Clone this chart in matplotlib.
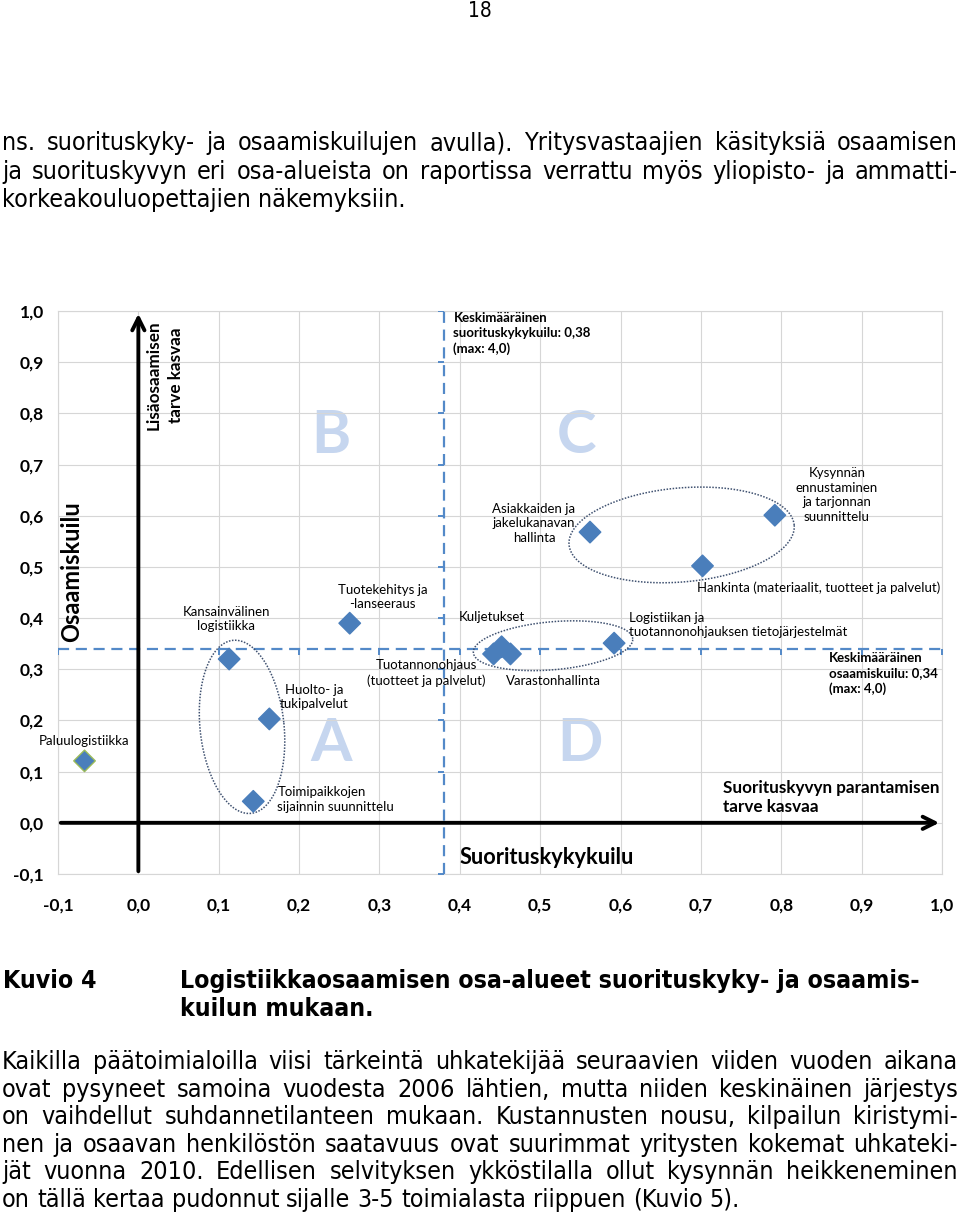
import matplotlib
matplotlib.use('Agg')
import matplotlib.pyplot as plt
import numpy as np
from matplotlib import font_manager as fm

# --- chart data -------------------------------------------------------------
names = ['Paluulogistiikka',
         'Kansainvälinen\nlogistiikka',
         'Huolto- ja\ntukipalvelut',
         'Toimipaikkojen\nsijainnin suunnittelu',
         'Tuotekehitys ja\n-lanseeraus',
         'Tuotannonohjaus\n(tuotteet ja palvelut)',
         'Kuljetukset',
         'Varastonhallinta',
         'Asiakkaiden ja\njakelukanavan\nhallinta',
         'Logistiikan ja\ntuotannonohjauksen tietojärjestelmät',
         'Hankinta (materiaalit, tuotteet ja palvelut)',
         'Kysynnän\nennustaminen\nja tarjonnan\nsuunnittelu']
perf_gap = [-0.067, 0.113, 0.163, 0.143, 0.263, 0.442, 0.452, 0.463, 0.562, 0.592, 0.702, 0.792]
comp_gap = [0.121, 0.320, 0.203, 0.042, 0.390, 0.330, 0.344, 0.330, 0.568, 0.351, 0.502, 0.601]
avg_perf = 0.38
avg_comp = 0.34
ticks = [-0.1, 0.0, 0.1, 0.2, 0.3, 0.4, 0.5, 0.6, 0.7, 0.8, 0.9, 1.0]
tick_labels = ['-0,1', '0,0', '0,1', '0,2', '0,3', '0,4', '0,5', '0,6', '0,7', '0,8', '0,9', '1,0']

# label placement (pixels from the point) and alignment
lab_off = [(0, 20), (-3, 40), (45, 22), (24, 2), (33, 26), (-67, -19), (-10, 30),
           (43, -27), (-56, 9), (15, 18), (116, -22), (62, 20)]
lab_ha = ['center', 'center', 'center', 'left', 'center', 'center', 'center',
          'center', 'center', 'left', 'center', 'center']

# --- page text ----------------------------------------------------------------
top_lines = ['ns. suorituskyky- ja osaamiskuilujen avulla). Yritysvastaajien käsityksiä osaamisen',
             'ja suorituskyvyn eri osa-alueista on raportissa verrattu myös yliopisto- ja ammatti-',
             'korkeakouluopettajien näkemyksiin.']
bottom_lines = ['Kaikilla päätoimialoilla viisi tärkeintä uhkatekijää seuraavien viiden vuoden aikana',
                'ovat pysyneet samoina vuodesta 2006 lähtien, mutta niiden keskinäinen järjestys',
                'on vaihdellut suhdannetilanteen mukaan.  Kustannusten nousu, kilpailun kiristymi-',
                'nen ja osaavan henkilöstön saatavuus ovat suurimmat yritysten kokemat uhkateki-',
                'jät vuonna 2010. Edellisen selvityksen ykköstilalla ollut kysynnän heikkeneminen',
                'on tällä kertaa pudonnut sijalle 3-5 toimialasta riippuen (Kuvio 5).']

W, H = 960, 1215
fig = plt.figure(figsize=(9.6, 12.15), dpi=100)

# body text: condensed DejaVu (Verdana-like, squeezed as in the scan)
body_font = dict(family='DejaVu Sans', fontstretch='condensed', fontsize=18)
page_font = dict(family='DejaVu Sans', fontstretch='condensed', fontsize=15)
body_bold = dict(family='DejaVu Sans', fontstretch='condensed', fontsize=17.8, fontweight='bold')

cf = 'Lato'

# --- chart --------------------------------------------------------------------
ax = fig.add_axes([58 / W, 1 - 874 / H, 884 / W, 563 / H])
ax.set_xlim(-0.1, 1.0)
ax.set_ylim(-0.1, 1.0)
ax.set_xticks(ticks)
ax.set_yticks(ticks)
ax.set_xticklabels(tick_labels, family=cf, fontweight='bold', fontsize=12.5)
ax.set_yticklabels(tick_labels, family=cf, fontweight='bold', fontsize=12.5)
ax.tick_params(length=0)
ax.tick_params(axis='x', pad=17)
ax.tick_params(axis='y', pad=10)
ax.grid(True, color='#d6d6d6', lw=0.8)
for s in ax.spines.values():
    s.set_color('#d6d6d6')
    s.set_linewidth(0.8)

# average gap lines
blue = '#5389c8'
ax.plot([-0.1, 1.0], [avg_comp, avg_comp], ls=(0, (5, 3)), color=blue, lw=1.6, zorder=3)
ax.plot(ticks, [avg_comp] * len(ticks), ls='none', marker=3, ms=4, mew=1.4, color=blue, zorder=3)
ax.plot([avg_perf, avg_perf], [-0.1, 1.0], ls=(0, (5, 3)), color=blue, lw=1.6, zorder=3)
ax.plot([avg_perf] * len(ticks), ticks, ls='none', marker=0, ms=4, mew=1.4, color=blue, zorder=3)

# main arrows
ax.annotate('', xy=(0, 1.0), xytext=(0, -0.1),
            arrowprops=dict(arrowstyle='->', lw=2.8, color='black', mutation_scale=22), zorder=4)
ax.annotate('', xy=(1.0, 0), xytext=(-0.1, 0),
            arrowprops=dict(arrowstyle='->', lw=2.8, color='black', mutation_scale=22), zorder=4)

# quadrant letters
for letter, (lx, ly) in zip('BCAD', [(0.240, 0.756), (0.545, 0.756), (0.240, 0.154), (0.549, 0.154)]):
    ax.text(lx, ly, letter, family=cf, fontweight='bold', fontsize=43, color='#c6d6ef',
            ha='center', va='center', zorder=1)

# groups
px_x = 884 / 1.1
px_y = 563 / 1.1
for cx, cy, a, b, ang in [(0.129, 0.1875, 42, 87, 6), (0.516, 0.346, 80, 24, 5), (0.676, 0.5625, 113, 47, 5)]:
    t = np.linspace(0, 2 * np.pi, 200)
    u, v = a * np.cos(t), b * np.sin(t)
    r = np.deg2rad(ang)
    uu = u * np.cos(r) - v * np.sin(r)
    vv = u * np.sin(r) + v * np.cos(r)
    ax.plot(cx + uu / px_x, cy + vv / px_y, ls=(0, (1, 1)), color='#3f5170', lw=1.1, zorder=3)

edge = ['#9bbb59'] + ['#4a7ebb'] * (len(perf_gap) - 1)
ax.scatter(perf_gap, comp_gap, marker='D', s=120, color='#4a7ebb', edgecolors=edge,
           linewidths=1.0, zorder=5)

for x, y, n, off, ha in zip(perf_gap, comp_gap, names, lab_off, lab_ha):
    ax.annotate(n, (x, y), xytext=off, textcoords='offset pixels', ha=ha, va='center',
                family=cf, fontsize=9.5, multialignment=ha,
                linespacing=1.25, zorder=6)

ax.text(-0.083, 0.49, 'Osaamiskuilu', rotation=90, family=cf, fontweight='bold', fontsize=17,
        ha='center', va='center')
ax.text(0.033, 0.875, 'Lisäosaamisen\ntarve kasvaa', rotation=90, family=cf, fontweight='bold',
        fontsize=12.3, ha='center', va='center', multialignment='center', linespacing=1.45)
ax.text(0.40, -0.068, 'Suorituskykykuilu', family=cf, fontweight='bold', fontsize=15.7,
        ha='left', va='center')
ax.text(0.727, 0.049, 'Suorituskyvyn parantamisen\ntarve kasvaa', family=cf, fontweight='bold',
        fontsize=12.3, ha='left', va='center', linespacing=1.25)
ax.text(0.392, 0.998, 'Keskimääräinen\nsuorituskykykuilu: 0,38\n(max: 4,0)', family=cf,
        fontweight='bold', fontsize=9.5, ha='left', va='top', linespacing=1.3)
ax.text(0.859, 0.334, 'Keskimääräinen\nosaamiskuilu: 0,34\n(max: 4,0)', family=cf,
        fontweight='bold', fontsize=9.5, ha='left', va='top', linespacing=1.3)

# --- page text ----------------------------------------------------------------
fig.canvas.draw()
renderer = fig.canvas.get_renderer()
BASE = 7  # baseline sits this many pixels below the line centre


def put_line(line, y, x0, x1, props, justify=True):
    words = line.split()
    widths = []
    for w in words:
        probe = fig.text(0, 0, w, **props)
        widths.append(probe.get_window_extent(renderer).width)
        probe.remove()
    t1 = fig.text(0, 0, 'a a', **props)
    t2 = fig.text(0, 0, 'aa', **props)
    sp = t1.get_window_extent(renderer).width - t2.get_window_extent(renderer).width
    t1.remove()
    t2.remove()
    gap = (x1 - x0 - sum(widths)) / (len(words) - 1) if justify else sp
    x = x0
    for w, wd in zip(words, widths):
        fig.text(x / W, 1 - (y + BASE) / H, w, va='baseline', ha='left', **props)
        x += wd + gap


fig.text(480 / W, 1 - 11 / H, '18', ha='center', va='center', **page_font)
for i, (ln, y) in enumerate(zip(top_lines, [143, 172, 200])):
    put_line(ln, y, 2, 958, body_font, justify=i < 2)

fig.text(3 / W, 1 - (981 + BASE) / H, 'Kuvio 4', ha='left', va='baseline', **body_bold)
fig.text(180 / W, 1 - (981 + BASE) / H, 'Logistiikkaosaamisen osa-alueet suorituskyky- ja osaamis-',
         ha='left', va='baseline', **body_bold)
fig.text(180 / W, 1 - (1009 + BASE) / H, 'kuilun mukaan.', ha='left', va='baseline', **body_bold)

for i, (ln, y) in enumerate(zip(bottom_lines, [1062, 1090, 1117, 1145, 1172, 1200])):
    put_line(ln, y, 2, 958, body_font, justify=i < len(bottom_lines) - 1)

fig.savefig('out.png', dpi=100)
